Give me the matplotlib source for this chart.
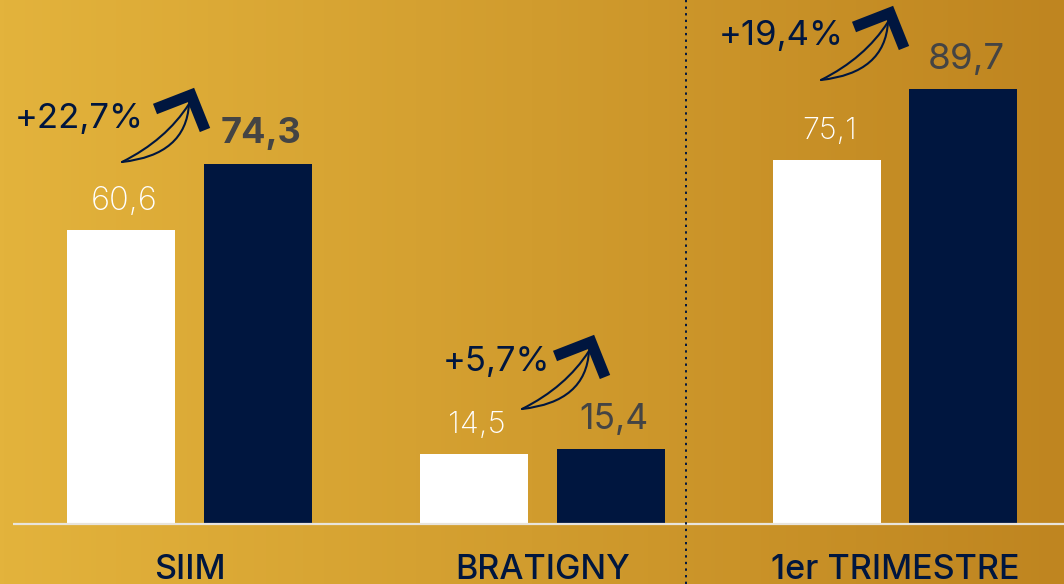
import numpy as np
import matplotlib
matplotlib.use("Agg")
import matplotlib.pyplot as plt
from matplotlib.path import Path
from matplotlib.patches import PathPatch

# ---- data ----
categories = ["SIIM", "BRATIGNY", "1er TRIMESTRE"]
values_before = [60.6, 14.5, 75.1]
values_after = [74.3, 15.4, 89.7]
labels_before = ["60,6", "14,5", "75,1"]
labels_after = ["74,3", "15,4", "89,7"]
growth_labels = ["+22,7%", "+5,7%", "+19,4%"]

# ---- style / layout ----
NAVY = "#00163f"
GRAY = "#444444"
W, H = 1064, 584
plt.rcParams['font.family'] = ['Inter', 'DejaVu Sans']

fig = plt.figure(figsize=(W / 100, H / 100), dpi=100)
ax = fig.add_axes([0, 0, 1, 1])
ax.set_xlim(-0.537, 2.479)
ax.set_ylim(-12.38, 108.15)
ax.axis("off")

# gradient background
grad = np.linspace(0, 1, 256)[None, :, None]
c0 = np.array([0xE3, 0xB3, 0x3C]) / 255
c1 = np.array([0xBF, 0x85, 0x20]) / 255
img = c0 + (c1 - c0) * grad
ax.imshow(img, extent=[0, 1, 0, 1], transform=ax.transAxes, aspect="auto", zorder=0)

x = np.arange(len(categories))
off, bw = 0.194, 0.306
ax.bar(x - off, values_before, bw, color="white", zorder=2)
ax.bar(x + off, values_after, bw, color=NAVY, zorder=2)

# baseline
ax.hlines(0, -0.5, 2.479, color="#e8e4dc", lw=1.6, zorder=3)
# dotted separator
ax.axvline(1.4075, color=NAVY, lw=1.4, ls=(0, (1.2, 2.2)), zorder=3)

before_sizes = [23.5, 22.5, 22]
after_sizes = [26, 25.5, 26.5]
after_weights = ["bold", "normal", "normal"]
for i in range(len(categories)):
    ax.annotate(labels_before[i], (x[i] - off, values_before[i]), xytext=(2, 15),
                textcoords="offset points", ha="center", va="baseline",
                color="white", fontsize=before_sizes[i], fontweight="light", zorder=4)
    ax.annotate(labels_after[i], (x[i] + off, values_after[i]), xytext=(2, 15),
                textcoords="offset points", ha="center", va="baseline",
                color=GRAY, fontsize=after_sizes[i], fontweight=after_weights[i], zorder=4)
    ax.annotate(categories[i], (x[i], 0), xytext=(0, -39.5), textcoords="offset points",
                ha="center", va="baseline", color=NAVY, fontsize=24.5,
                fontweight="medium", zorder=4)

# growth annotations (figure-pixel layout, y measured from top)
def fp(px, py):
    return (px, H - py)

growth_text_pos = [(15, 128), (443, 371), (719, 45)]
arrow_apex = [(191, 95), (591, 342), (890, 13)]
for i in range(len(categories)):
    ax.annotate(growth_labels[i], fp(*growth_text_pos[i]), xycoords="figure pixels",
                ha="left", va="baseline", color=NAVY, fontsize=25, zorder=5)
    axp, ayp = arrow_apex[i]
    pts = lambda dx, dy: fp(axp + dx, ayp + dy)
    # chevron
    chev = [pts(-36, 14), pts(0, 0), pts(14, 35)]
    xs = [p[0] for p in chev]
    ys = [p[1] for p in chev]
    line = plt.Line2D(xs, ys, transform=None, color=NAVY, lw=8,
                      solid_joinstyle="miter", solid_capstyle="butt", zorder=5)
    fig.add_artist(line)
    T = pts(-69, 67)
    E = pts(-2, 9)
    for C in (pts(-5, 60), pts(-25, 45)):
        path = Path([T, C, E], [Path.MOVETO, Path.CURVE3, Path.CURVE3])
        fig.add_artist(PathPatch(path, transform=None, fc="none", ec=NAVY, lw=1.5,
                                 capstyle="round", zorder=5))

fig.savefig("out.png", dpi=100)
